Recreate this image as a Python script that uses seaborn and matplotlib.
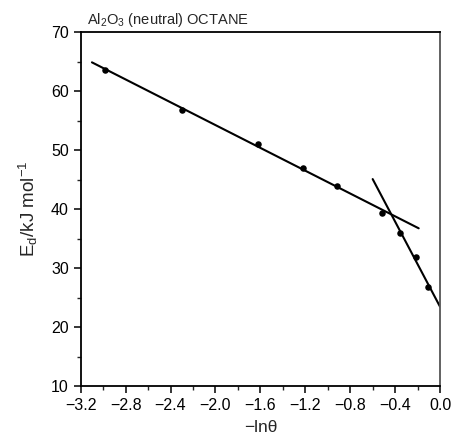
import numpy as np
import pandas as pd
import matplotlib
matplotlib.use("Agg")
import matplotlib.pyplot as plt
from matplotlib.ticker import MultipleLocator, FuncFormatter
import seaborn as sns

# Measured desorption energies vs -ln(theta)
neg_ln_theta = [-2.98, -2.30, -1.62, -1.22, -0.92, -0.52, -0.36, -0.21, -0.11]
energy = [63.6, 56.9, 51.0, 46.9, 43.9, 39.4, 35.9, 31.8, 26.8]

# Straight-line fits for the two coverage regimes
fit_low_x = [-3.10, -0.19]
fit_low_y = [64.9, 36.75]
fit_high_x = [-0.60, 0.0]
fit_high_y = [45.1, 23.45]

x_ticks = [-3.2, -2.8, -2.4, -2.0, -1.6, -1.2, -0.8, -0.4, 0.0]
y_ticks = [10, 20, 30, 40, 50, 60, 70]

sns.set_theme(style="ticks")
plt.rcParams["font.family"] = ["Liberation Sans", "DejaVu Sans"]
plt.rcParams["mathtext.default"] = "regular"

points = pd.DataFrame({"x": neg_ln_theta, "y": energy})
low = pd.DataFrame({"x": fit_low_x, "y": fit_low_y})
high = pd.DataFrame({"x": fit_high_x, "y": fit_high_y})

fig = plt.figure(figsize=(4.56, 4.41), dpi=100)
ax = fig.add_axes([0.177, 0.1247, 0.788, 0.8021])

sns.lineplot(data=low, x="x", y="y", ax=ax, color="black", linewidth=1.5, sort=False)
sns.lineplot(data=high, x="x", y="y", ax=ax, color="black", linewidth=1.5, sort=False)
sns.scatterplot(data=points, x="x", y="y", ax=ax, color="black", s=22,
                edgecolor="black", linewidth=0, zorder=5)

ax.set_xlim(-3.2, 0.0)
ax.set_ylim(10, 70)
ax.set_xticks(x_ticks)
ax.set_yticks(y_ticks)
ax.xaxis.set_major_formatter(FuncFormatter(lambda v, p: f"{v:.1f}".replace("-", "\u2212")))
ax.xaxis.set_minor_locator(MultipleLocator(0.2))
ax.yaxis.set_minor_locator(MultipleLocator(5))
ax.tick_params(axis="both", which="major", direction="out", length=5, width=1.1,
               labelsize=11.5, colors="black", top=False, right=False)
ax.tick_params(axis="both", which="minor", direction="out", length=3, width=1.0,
               top=False, right=False)
for side in ["left", "bottom", "top", "right"]:
    ax.spines[side].set_visible(True)
    ax.spines[side].set_linewidth(1.3)
    ax.spines[side].set_color("black")
ax.spines["right"].set_color("#555555")

ax.set_xlabel("\u2212ln\u03b8", fontsize=12.5, labelpad=5)
ax.set_ylabel("E$_d$/kJ mol$^{\u22121}$", fontsize=13.5, labelpad=8)
ax.text(0.017, 1.01, "Al$_2$O$_3$ (neutral) OCTANE", transform=ax.transAxes,
        fontsize=10.5, ha="left", va="bottom")

fig.savefig("out.png", dpi=100, facecolor="white")
